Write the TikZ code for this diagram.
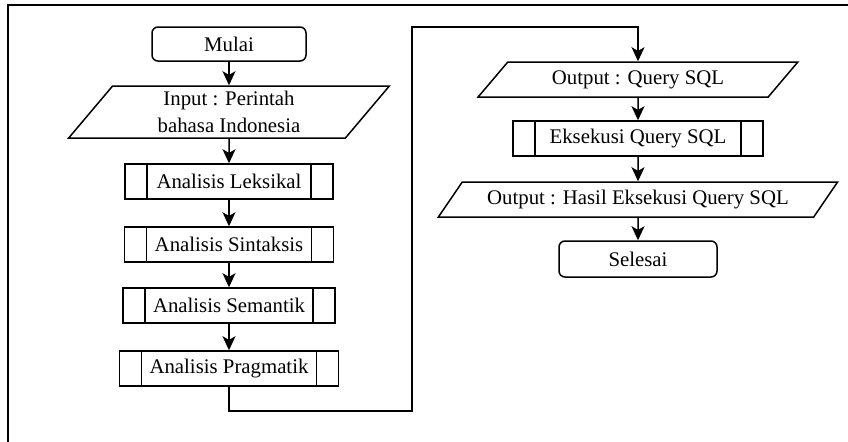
\documentclass[tikz,border=0pt]{standalone}
\usepackage{fontspec}
\setmainfont{Liberation Serif}
\usetikzlibrary{shapes.geometric,arrows.meta}

\begin{document}
\begin{tikzpicture}[x=0.5pt,y=-0.5pt,line width=0.75pt,
        font=\fontsize{10.4}{13.3}\selectfont,
        terminal/.style={rounded corners=3pt},
        io/.style 2 args={trapezium,trapezium left angle=#1,trapezium right angle=#2,trapezium stretches=true},
        subproc/.style={path picture={
            \draw ([xshift=11pt]path picture bounding box.north west) -- ([xshift=11pt]path picture bounding box.south west);
            \draw ([xshift=-11pt]path picture bounding box.north east) -- ([xshift=-11pt]path picture bounding box.south east);
        }}]
        \clip (0,0) rectangle (848,441);
        \draw[line width=1.2pt] (8,5) rectangle (870,470);
        \begin{scope}[every node/.style={draw,align=center,inner sep=2pt,minimum height=17.5pt}]
            \node[terminal, minimum width=77pt, minimum height=17pt] (1) at (229,44) {Mulai};
            \node[io={60}{120}, minimum width=160.5pt, minimum height=26pt] (2) at (229,112) {Input : Perintah\\bahasa Indonesia};
            \node[subproc, minimum width=104pt] (3) at (229,181.5) {Analisis Leksikal};
            \node[subproc, minimum width=104.5pt] (4) at (229,244.5) {Analisis Sintaksis};
            \node[subproc, minimum width=106pt] (5) at (229,305.5) {Analisis Semantik};
            \node[subproc, minimum width=109.5pt] (6) at (229,368.5) {Analisis Pragmatik};

            \node[io={52}{128}, minimum width=160pt] (7) at (638,79.5) {Output : Query SQL};
            \node[subproc, minimum width=125pt] (8) at (638,138.5) {Eksekusi Query SQL};
            \node[io={52}{128}, minimum width=200pt] (9) at (638,199.5) {Output : Hasil Eksekusi Query SQL};
            \node[terminal, minimum width=79pt, minimum height=18pt] (10) at (638,259) {Selesai};
        \end{scope}
        \coordinate (c1) at (412,411);
        \coordinate (c2) at (412,27);
        \begin{scope}[every edge/.style={draw,-{Stealth[length=7pt,width=6.5pt,inset=1.8pt]}}]
            \path (1) edge (2);
            \path (2) edge (3);
            \path (3) edge (4);
            \path (4) edge (5);
            \path (5) edge (6);

            \path (7) edge (8);
            \path (8) edge (9);
            \path (9) edge (10);
        \end{scope}
        \draw[-{Stealth[length=7pt,width=6.5pt,inset=1.8pt]}] (6.south) |- (c1) -- (c2) -| (7.north);
    \end{tikzpicture}
\end{document}
